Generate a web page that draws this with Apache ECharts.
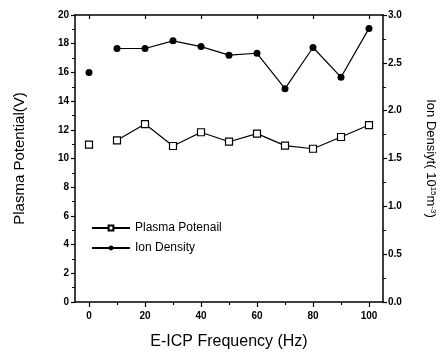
<!DOCTYPE html>
<html><head><meta charset="utf-8">
<script src="https://cdn.jsdelivr.net/npm/echarts@6/dist/echarts.min.js"></script>
<style>html,body{margin:0;padding:0;background:#fff}#c{width:442px;height:356px}</style>
</head><body><div id="c"></div>
<script>
const freq = [0, 10, 20, 30, 40, 50, 60, 70, 80, 90, 100];
const plasmaPotential = [10.96, 11.27, 12.4, 10.87, 11.83, 11.17, 11.73, 10.9, 10.68, 11.5, 12.33];
const ionDensity = [2.40, 2.65, 2.65, 2.73, 2.67, 2.58, 2.60, 2.23, 2.66, 2.35, 2.86];
const xMajorTicks = [0, 20, 40, 60, 80, 100];
const xMinorTicks = [10, 30, 50, 70, 90];
const seriesNames = ['Plasma Potenail', 'Ion Density'];

const pairs = (ys) => freq.map((x, i) => [x, ys[i]]);
const pp = pairs(plasmaPotential), id = pairs(ionDensity);
const font = 'Arial, "Liberation Sans", sans-serif';
const black = '#000';
const lblStyle = {color: black, fontFamily: font, fontWeight: 'bold', fontSize: 10};

const chart = echarts.init(document.getElementById('c'), null, {renderer: 'canvas'});
chart.setOption({
  animation: false,
  backgroundColor: '#fff',
  grid: {left: 75, right: 59, top: 15, bottom: 54, show: false, containLabel: false, outerBoundsMode: 'none'},
  legend: {
    data: seriesNames, orient: 'vertical', left: 86, top: 217,
    itemWidth: 38, itemHeight: 6, itemGap: 8,
    textStyle: {color: black, fontFamily: font, fontSize: 12}
  },
  xAxis: [
    {type: 'value', min: -5, max: 105, position: 'bottom',
     axisLine: {onZero: false, lineStyle: {color: black, width: 1.5}},
     axisTick: {customValues: xMajorTicks, length: 5, lineStyle: {color: black, width: 1.2}},
     axisLabel: Object.assign({customValues: xMajorTicks, margin: 9}, lblStyle),
     splitLine: {show: false},
     name: 'E-ICP Frequency (Hz)', nameLocation: 'middle', nameGap: 32,
     nameTextStyle: {color: black, fontFamily: font, fontSize: 16}},
    {type: 'value', min: -5, max: 105, position: 'bottom',
     axisLine: {show: false, onZero: false},
     axisTick: {customValues: xMinorTicks, length: 3, lineStyle: {color: black, width: 1.2}},
     axisLabel: {show: false}, splitLine: {show: false}},
    {type: 'value', min: -5, max: 105, position: 'top',
     axisLine: {onZero: false, lineStyle: {color: black, width: 1.5}},
     axisTick: {customValues: xMajorTicks, inside: true, length: 4, lineStyle: {color: black, width: 1.2}},
     axisLabel: {show: false}, splitLine: {show: false}}
  ],
  yAxis: [
    {type: 'value', min: 0, max: 20, interval: 2, position: 'left',
     axisLine: {show: true, onZero: false, lineStyle: {color: black, width: 1.5}},
     axisTick: {length: 4, lineStyle: {color: black, width: 1.2}},
     minorTick: {show: true, splitNumber: 2, length: 3, lineStyle: {color: black, width: 1}},
     axisLabel: Object.assign({margin: 6}, lblStyle),
     splitLine: {show: false},
     name: 'Plasma Potential(V)', nameLocation: 'middle', nameGap: 48,
     nameTextStyle: {color: black, fontFamily: font, fontSize: 15}},
    {type: 'value', min: 0, max: 3, interval: 0.5, position: 'right',
     axisLine: {show: true, onZero: false, lineStyle: {color: black, width: 1.5}},
     axisTick: {length: 4, lineStyle: {color: black, width: 1.2}},
     minorTick: {show: true, splitNumber: 2, length: 3, lineStyle: {color: black, width: 1}},
     axisLabel: Object.assign({margin: 5, formatter: v => v.toFixed(1)}, lblStyle),
     splitLine: {show: false},
     name: 'Ion Densiyt( 10{sup|15}m{sup|-3})', nameLocation: 'middle', nameGap: 41, nameRotate: -90,
     nameTextStyle: {color: black, fontFamily: font, fontSize: 13,
       rich: {sup: {fontSize: 8, verticalAlign: 'top', color: black, fontFamily: font}}}}
  ],
  series: [
    {name: seriesNames[0], type: 'line', xAxisIndex: 0, yAxisIndex: 0, data: pp.slice(1),
     symbol: 'rect', symbolSize: 7, showAllSymbol: true,
     itemStyle: {color: '#fff', borderColor: black, borderWidth: 1.2},
     lineStyle: {color: black, width: 1.2}},
    {name: seriesNames[0], type: 'scatter', xAxisIndex: 0, yAxisIndex: 0, data: pp.slice(0, 1),
     symbol: 'rect', symbolSize: 7,
     itemStyle: {color: '#fff', borderColor: black, borderWidth: 1.2, opacity: 1}},
    {name: seriesNames[1], type: 'line', xAxisIndex: 0, yAxisIndex: 1, data: id.slice(1),
     symbol: 'circle', symbolSize: 7, showAllSymbol: true,
     itemStyle: {color: black, borderColor: black, borderWidth: 0},
     lineStyle: {color: black, width: 1.2}},
    {name: seriesNames[1], type: 'scatter', xAxisIndex: 0, yAxisIndex: 1, data: id.slice(0, 1),
     symbol: 'circle', symbolSize: 7,
     itemStyle: {color: black, opacity: 1}}
  ]
});
</script></body></html>
